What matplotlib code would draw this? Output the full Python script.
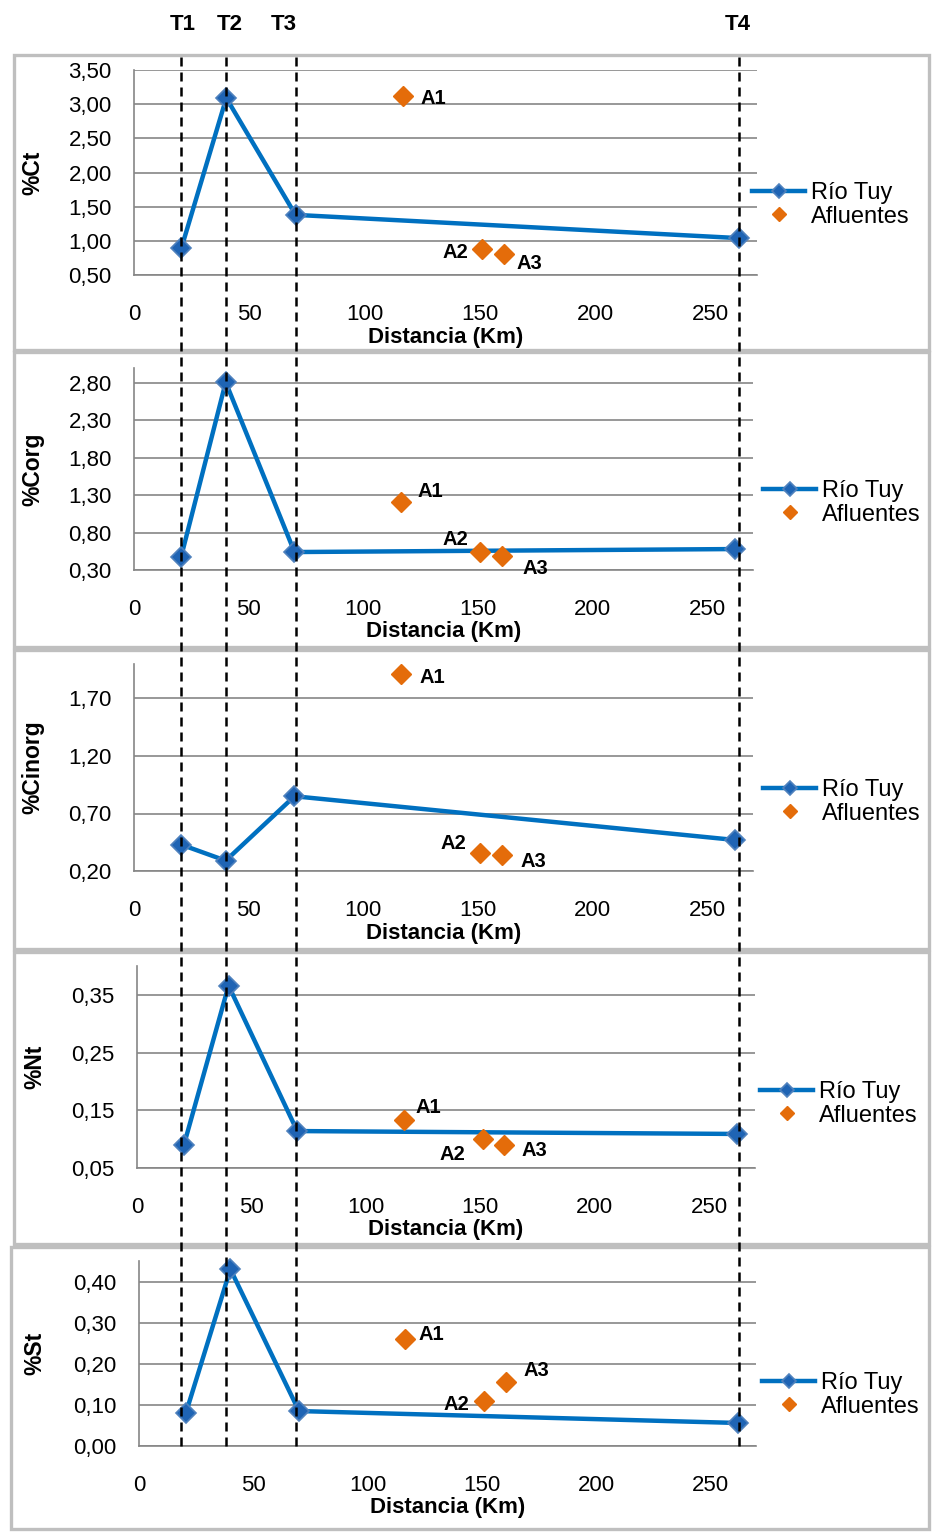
import matplotlib
matplotlib.use("Agg")
import matplotlib.pyplot as plt
from matplotlib.lines import Line2D
from matplotlib.patches import Rectangle
from matplotlib.ticker import FixedLocator, FuncFormatter

plt.rcParams['font.family'] = ['Liberation Sans', 'DejaVu Sans']

# ---- data ----
stations = ["T1", "T2", "T3", "T4"]
dist_rio = [20.5, 40, 70, 262]          # km along Río Tuy
tributaries = ["A1", "A2", "A3"]
dist_afl = [116.5, 151, 160.5]          # km, tributary confluences

ct_rio = [0.89, 3.09, 1.38, 1.04]
ct_afl = [3.12, 0.88, 0.81]
corg_rio = [0.47, 2.81, 0.54, 0.58]
corg_afl = [1.21, 0.54, 0.49]
cinorg_rio = [0.43, 0.29, 0.85, 0.47]
cinorg_afl = [1.91, 0.36, 0.34]
nt_rio = [0.09, 0.366, 0.114, 0.109]
nt_afl = [0.133, 0.10, 0.09]
st_rio = [0.08, 0.43, 0.085, 0.056]
st_afl = [0.26, 0.11, 0.155]

x_ticks = [0, 50, 100, 150, 200, 250]
ylabels = ["%Ct", "%Corg", "%Cinorg", "%Nt", "%St"]
y_ticks = [
    [0.50, 1.00, 1.50, 2.00, 2.50, 3.00, 3.50],
    [0.30, 0.80, 1.30, 1.80, 2.30, 2.80],
    [0.20, 0.70, 1.20, 1.70],
    [0.05, 0.15, 0.25, 0.35],
    [0.00, 0.10, 0.20, 0.30, 0.40],
]
y_limits = [(0.5, 3.5), (0.3, 3.0), (0.2, 2.0), (0.05, 0.40), (0.0, 0.45)]
rio_series = [ct_rio, corg_rio, cinorg_rio, nt_rio, st_rio]
afl_series = [ct_afl, corg_afl, cinorg_afl, nt_afl, st_afl]

# ---- layout (pixels) ----
W, H = 932, 1537
BLUE = "#0070C0"
ORANGE = "#E46C0A"
GRID = "#868686"
BORDER = "#BFBFBF"


def fx(px):
    return px / W


def fy(py):
    return 1 - py / H


# left, right, top, bottom of each plot area
plot_areas = [
    (134, 757, 70, 275),
    (134, 753, 368, 570),
    (134, 753, 664, 871),
    (137, 755, 966, 1168),
    (139, 756, 1261, 1446),
]
frames = [
    (14, 55, 929, 350),
    (14, 352, 929, 647),
    (14, 650, 929, 949),
    (14, 952, 929, 1244),
    (11, 1247, 929, 1529),
]
legend_anchor = [(752, 205), (763, 503), (763, 802), (760, 1104), (762, 1395)]
ylabel_x = [33, 33, 33, 35, 35]
xlabel_gap = 62
# label offsets (pixels) for tributary names: (dx, dy, ha)
afl_offsets = [
    [(18, -3, 'left'), (-14, -3, 'right'), (12, -10, 'left')],
    [(16, 10, 'left'), (-12, 13, 'right'), (21, -13, 'left')],
    [(18, -3, 'left'), (-14, 9, 'right'), (19, -7, 'left')],
    [(12, 13, 'left'), (-17, -15, 'right'), (17, -6, 'left')],
    [(13, 5, 'left'), (-15, -4, 'right'), (18, 12, 'left')],
]

fig = plt.figure(figsize=(W / 100, H / 100), dpi=100)
fig.patch.set_facecolor("white")

# panel frames
for (x0, y0, x1, y1) in frames:
    fig.patches.append(Rectangle((fx(x0), fy(y1)), fx(x1) - fx(x0), fy(y0) - fy(y1),
                                 transform=fig.transFigure, fill=False,
                                 edgecolor=BORDER, linewidth=2.4, zorder=0))

comma = FuncFormatter(lambda v, p: f"{v:.2f}".replace(".", ","))
axes = []
for i, (l, r, t, b) in enumerate(plot_areas):
    ax = fig.add_axes([fx(l), fy(b), (r - l) / W, (b - t) / H])
    axes.append(ax)
    ax.set_facecolor("none")
    ax.set_xlim(0, 270)
    ax.set_ylim(*y_limits[i])
    ax.yaxis.set_major_locator(FixedLocator(y_ticks[i]))
    ax.yaxis.set_major_formatter(comma)
    ax.xaxis.set_major_locator(FixedLocator(x_ticks))
    ax.grid(axis='y', color=GRID, linewidth=1.2)
    ax.set_axisbelow(True)
    for s in ("top", "right"):
        ax.spines[s].set_visible(False)
    for s in ("left", "bottom"):
        ax.spines[s].set_color(GRID)
        ax.spines[s].set_linewidth(1.2)
    ax.tick_params(axis='y', length=0, pad=16, labelsize=16)
    ax.tick_params(axis='x', length=0, pad=21, labelsize=16)

    ax.plot(dist_rio, rio_series[i], color=BLUE, linewidth=3.2, marker='D',
            markersize=10, markerfacecolor="#1F64B4", markeredgecolor="#4F81BD",
            markeredgewidth=1.2, clip_on=False, zorder=3, label="Río Tuy")
    ax.plot(dist_afl, afl_series[i], linestyle='none', marker='D', markersize=10,
            color=ORANGE, markeredgecolor=ORANGE, clip_on=False, zorder=3,
            label="Afluentes")
    for j, name in enumerate(tributaries):
        dx, dy, ha = afl_offsets[i][j]
        ax.annotate(name, (dist_afl[j], afl_series[i][j]), xytext=(dx, dy),
                    textcoords='offset pixels', ha=ha, va='center',
                    fontsize=14.5, fontweight='bold', annotation_clip=False)

    lx, ly = legend_anchor[i]
    ax.legend(loc='center left', bbox_to_anchor=(fx(lx), fy(ly)),
              bbox_transform=fig.transFigure, frameon=False, fontsize=17,
              handlelength=2.25, handletextpad=0.25, labelspacing=0.05,
              borderpad=0, borderaxespad=0, numpoints=1, markerscale=0.75)

    fig.text(fx(ylabel_x[i]), fy((t + b) / 2), ylabels[i], rotation=90,
             ha='center', va='center', fontsize=16.5, fontweight='bold')
    fig.text(fx((l + r) / 2), fy(b + xlabel_gap), "Distancia (Km)",
             ha='center', va='center', fontsize=16, fontweight='bold')

# station reference lines spanning every panel
fig.canvas.draw()
inv = fig.transFigure.inverted()
top_y = fy(frames[0][1])
bot_y = fy(plot_areas[-1][3])
t_label_dx = [1, 3, -12, -1]
for k, d in enumerate(dist_rio):
    xd = axes[0].transData.transform((d, 0))[0]
    xf = inv.transform((xd, 0))[0]
    fig.lines.append(Line2D([xf, xf], [bot_y, top_y], transform=fig.transFigure,
                            color="black", linewidth=1.8, dashes=(3.6, 2.4),
                            zorder=5))
    fig.text(xf + t_label_dx[k] / W, fy(25), stations[k], ha='center',
             va='center', fontsize=16, fontweight='bold')

fig.savefig("out.png", dpi=100, facecolor="white")
